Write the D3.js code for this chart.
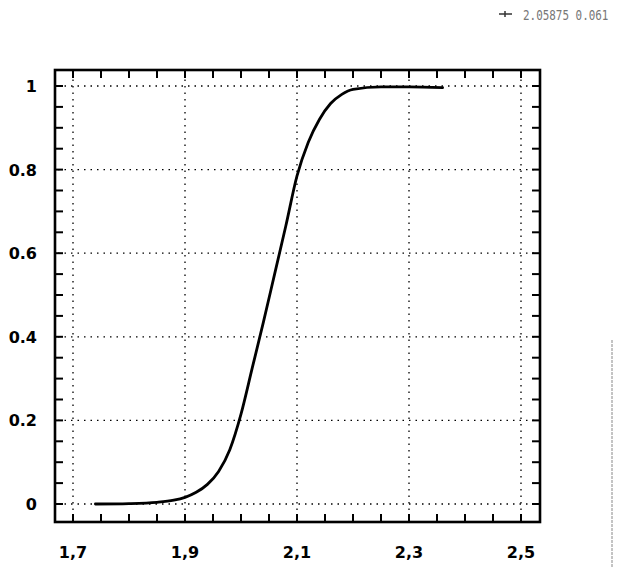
<!DOCTYPE html>
<meta charset="utf-8">
<head>
<script src="https://d3js.org/d3.v7.min.js"></script>
<style>
body { margin: 0; background: #fff; }
.tick-label { font-family: "DejaVu Sans", sans-serif; font-weight: bold; font-size: 16px; }
</style>
</head>
<body>
<script>

// curve (x, cumulative fraction)
var curveX = [1.74, 1.80, 1.85, 1.88, 1.90, 1.92, 1.94, 1.96, 1.98, 2.00, 2.02, 2.04, 2.06, 2.08, 2.10, 2.12, 2.14, 2.16, 2.18, 2.20, 2.25, 2.30, 2.36];
var curveY = [0.0, 0.001, 0.004, 0.009, 0.016, 0.028, 0.047, 0.078, 0.13, 0.215, 0.325, 0.435, 0.55, 0.665, 0.785, 0.865, 0.92, 0.958, 0.98, 0.992, 0.998, 0.998, 0.996];

var xTicks = [1.7, 1.9, 2.1, 2.3, 2.5];
var xTickLabels = ["1,7", "1,9", "2,1", "2,3", "2,5"];
var yTicks = [0, 0.2, 0.4, 0.6, 0.8, 1];
var yTickLabels = ["0", "0.2", "0.4", "0.6", "0.8", "1"];
var legendText = "2.05875 0.061";

var W = 618, H = 568;
var svg = d3.select("body").append("svg")
    .attr("width", W)
    .attr("height", H);

// frame
var frame = {left: 55, right: 540, top: 70, bottom: 522};

var x = d3.scaleLinear().domain([1.7, 2.5]).range([73, 521]);
var y = d3.scaleLinear().domain([0, 1]).range([504, 86]);

// dotted grid
svg.append("g").selectAll("line")
    .data(xTicks).enter().append("line")
    .attr("x1", function(d) { return x(d); })
    .attr("x2", function(d) { return x(d); })
    .attr("y1", frame.top + 3).attr("y2", frame.bottom - 3)
    .attr("stroke", "#000").attr("stroke-width", 1.3)
    .attr("stroke-dasharray", "1.5,5");
svg.append("g").selectAll("line")
    .data(yTicks).enter().append("line")
    .attr("y1", function(d) { return y(d); })
    .attr("y2", function(d) { return y(d); })
    .attr("x1", frame.left + 3).attr("x2", frame.right - 3)
    .attr("stroke", "#000").attr("stroke-width", 1.3)
    .attr("stroke-dasharray", "1.5,5");

// minor ticks every 0.05 on all four sides, pointing inward
var xMinor = d3.range(0, 17).map(function(i) { return 1.7 + i * 0.05; });
var yMinor = d3.range(0, 21).map(function(i) { return i * 0.05; });
var tickLen = 8;
var ticks = svg.append("g").attr("stroke", "#000").attr("stroke-width", 2);
xMinor.forEach(function(v) {
  ticks.append("line").attr("x1", x(v)).attr("x2", x(v))
    .attr("y1", frame.bottom).attr("y2", frame.bottom - tickLen);
  ticks.append("line").attr("x1", x(v)).attr("x2", x(v))
    .attr("y1", frame.top).attr("y2", frame.top + tickLen);
});
yMinor.forEach(function(v) {
  ticks.append("line").attr("y1", y(v)).attr("y2", y(v))
    .attr("x1", frame.left).attr("x2", frame.left + tickLen);
  ticks.append("line").attr("y1", y(v)).attr("y2", y(v))
    .attr("x1", frame.right).attr("x2", frame.right - tickLen);
});

// frame box
svg.append("rect")
    .attr("x", frame.left).attr("y", frame.top)
    .attr("width", frame.right - frame.left)
    .attr("height", frame.bottom - frame.top)
    .attr("fill", "none").attr("stroke", "#000").attr("stroke-width", 2.6);

// curve
var pts = curveX.map(function(v, i) { return [v, curveY[i]]; });
var line = d3.line()
    .x(function(d) { return x(d[0]); })
    .y(function(d) { return y(d[1]); })
    .curve(d3.curveMonotoneX);
svg.append("path")
    .datum(pts)
    .attr("d", line)
    .attr("fill", "none").attr("stroke", "#000").attr("stroke-width", 2.8)
    .attr("stroke-linecap", "round");

// tick labels
svg.append("g").selectAll("text")
    .data(xTicks).enter().append("text")
    .attr("class", "tick-label")
    .attr("x", function(d) { return x(d); })
    .attr("y", 558)
    .attr("text-anchor", "middle")
    .text(function(d, i) { return xTickLabels[i]; });
svg.append("g").selectAll("text")
    .data(yTicks).enter().append("text")
    .attr("class", "tick-label")
    .attr("x", 37)
    .attr("y", function(d) { return y(d) + 6; })
    .attr("text-anchor", "end")
    .text(function(d, i) { return yTickLabels[i]; });

// legend
var lg = svg.append("g").attr("transform", "translate(0,14)");
lg.append("line").attr("x1", 499).attr("x2", 512).attr("y1", 0).attr("y2", 0)
    .attr("stroke", "#333").attr("stroke-width", 1.5);
lg.append("line").attr("x1", 505).attr("x2", 505).attr("y1", -3).attr("y2", 3)
    .attr("stroke", "#333").attr("stroke-width", 1.5);
lg.append("text")
    .attr("transform", "translate(523,6) scale(0.78,1)")
    .attr("font-family", "DejaVu Sans Mono, monospace")
    .attr("font-size", 14)
    .attr("fill", "#777")
    .text(legendText);

// scanner edge line on the right
svg.append("line")
    .attr("x1", 612).attr("x2", 612).attr("y1", 340).attr("y2", 568)
    .attr("stroke", "#888").attr("stroke-width", 1)
    .attr("stroke-dasharray", "3,1");

</script>
</body>
